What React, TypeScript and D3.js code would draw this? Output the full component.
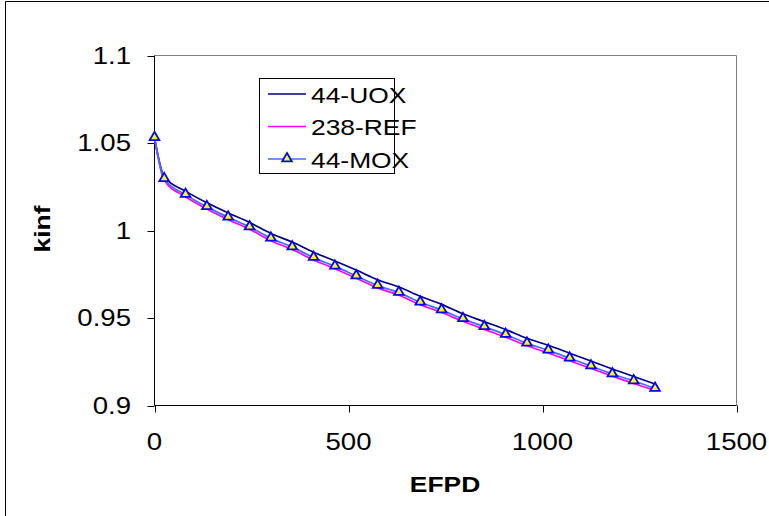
import React, { useRef, useEffect } from 'react';
import * as d3 from 'd3';

// EFPD sample points (same for every series)
const efpd = [0, 25, 80, 135, 190, 245, 300, 355, 410, 465, 520, 575, 630, 685, 740, 795, 850, 905, 960, 1015, 1070, 1125, 1180, 1235, 1290];

const uox = [1.053, 1.0307, 1.0225, 1.0158, 1.01, 1.0046, 0.9983, 0.9934, 0.9876, 0.9826, 0.9774, 0.9719, 0.9677, 0.9624, 0.9578, 0.9524, 0.9479, 0.9434, 0.9384, 0.9344, 0.9299, 0.9254, 0.9209, 0.9166, 0.9123];
const ref = [1.053, 1.0287, 1.0193, 1.0123, 1.0062, 1.0007, 0.9942, 0.9891, 0.9832, 0.9781, 0.9727, 0.9672, 0.963, 0.9576, 0.9531, 0.9481, 0.9435, 0.939, 0.9341, 0.93, 0.9256, 0.9211, 0.9168, 0.9126, 0.9087];
const mox = [1.053, 1.0295, 1.0205, 1.0135, 1.0075, 1.002, 0.9955, 0.9905, 0.9845, 0.9795, 0.974, 0.9685, 0.9645, 0.959, 0.9545, 0.9495, 0.945, 0.9405, 0.9355, 0.9315, 0.927, 0.9225, 0.918, 0.914, 0.9097];

const xTicks = [0, 500, 1000, 1500];
const yTicks = [0.9, 0.95, 1, 1.05, 1.1];

const series = [
  { name: '44-UOX', values: uox, color: '#000080', marker: false },
  { name: '238-REF', values: ref, color: '#FF00FF', marker: false },
  { name: '44-MOX', values: mox, color: '#3F6FFF', marker: true },
];

const FONT = '"Liberation Sans", Arial, sans-serif';
const STRETCH = 1.2;

const KinfChart = () => {
  const ref_ = useRef<SVGSVGElement>(null);

  useEffect(() => {
    if (!ref_.current) return;
    const svg = d3.select(ref_.current);
    svg.selectAll('*').remove();

    const left = 154.5, right = 736.5, top = 55.5, bottom = 405.5;
    const x = d3.scaleLinear().domain([0, 1500]).range([left, right]);
    const y = d3.scaleLinear().domain([0.9, 1.1]).range([bottom, top]);

    // stretched text helper
    const txt = (g, tx, ty, s, size, anchor, bold = false, rotate = 0) => {
      g.append('g')
        .attr('transform', `translate(${tx},${ty}) rotate(${rotate}) scale(${STRETCH},1)`)
        .append('text')
        .attr('font-family', FONT)
        .attr('font-size', size)
        .attr('font-weight', bold ? 'bold' : 'normal')
        .attr('text-anchor', anchor)
        .attr('fill', '#000')
        .text(s);
    };

    // outer frame
    svg.append('line').attr('x1', 5.5).attr('x2', 5.5).attr('y1', 1.5).attr('y2', 516).attr('stroke', '#000');
    svg.append('line').attr('x1', 5.5).attr('x2', 769).attr('y1', 1.5).attr('y2', 1.5).attr('stroke', '#000');

    // plot area border (gray top/right)
    svg.append('path')
      .attr('d', `M${left},${top}H${right}V${bottom}`)
      .attr('fill', 'none').attr('stroke', '#808080');

    // axes
    svg.append('line').attr('x1', left).attr('x2', right).attr('y1', bottom).attr('y2', bottom).attr('stroke', '#000');
    svg.append('line').attr('x1', left).attr('x2', left).attr('y1', top).attr('y2', bottom).attr('stroke', '#000');

    xTicks.forEach(t => {
      svg.append('line').attr('x1', Math.round(x(t)) + 0.5).attr('x2', Math.round(x(t)) + 0.5)
        .attr('y1', bottom).attr('y2', bottom + 7).attr('stroke', '#000');
      txt(svg, x(t), 450, String(t), 23, 'middle');
    });
    yTicks.forEach(t => {
      svg.append('line').attr('x1', left - 7).attr('x2', left)
        .attr('y1', Math.round(y(t)) + 0.5).attr('y2', Math.round(y(t)) + 0.5).attr('stroke', '#000');
      txt(svg, 131, y(t) + 8, String(t), 23, 'end');
    });

    txt(svg, 445, 492, 'EFPD', 22, 'middle', true);
    txt(svg, 50, 229, 'kinf', 22, 'middle', true, -90);

    const line = d3.line<number>()
      .x((_, i) => x(efpd[i]))
      .y(d => y(d))
      .curve(d3.curveMonotoneX);

    series.forEach(s => {
      svg.append('path')
        .datum(s.values)
        .attr('d', line)
        .attr('fill', 'none')
        .attr('stroke', s.color)
        .attr('stroke-width', 1.7);
    });

    const tri = d3.symbol().type(d3.symbolTriangle).size(40);
    svg.append('g').selectAll('path')
      .data(mox)
      .enter().append('path')
      .attr('d', tri)
      .attr('transform', (d, i) => `translate(${x(efpd[i])},${y(d) - 0.5})`)
      .attr('fill', '#FFFF00')
      .attr('stroke', '#0000FF')
      .attr('stroke-width', 1.8);

    // legend
    const lg = svg.append('g');
    lg.append('rect').attr('x', 259.5).attr('y', 78.5).attr('width', 135).attr('height', 95)
      .attr('fill', '#fff').attr('stroke', '#000');
    series.forEach((s, i) => {
      const ly = 94 + i * 32.5;
      lg.append('line').attr('x1', 268).attr('x2', 306).attr('y1', ly).attr('y2', ly)
        .attr('stroke', s.color).attr('stroke-width', 1.7);
      if (s.marker) {
        lg.append('path').attr('d', tri).attr('transform', `translate(287,${ly - 0.5})`)
          .attr('fill', '#FFFF00').attr('stroke', '#0000FF').attr('stroke-width', 1.8);
      }
      txt(lg, 311, ly + 8.5, s.name, 22, 'start');
    });
  }, []);

  return (
    <svg ref={ref_} width={769} height={516}
      style={{ position: 'absolute', left: 0, top: 0, background: '#fff' }} />
  );
};

export default function App() {
  return <KinfChart />;
}
